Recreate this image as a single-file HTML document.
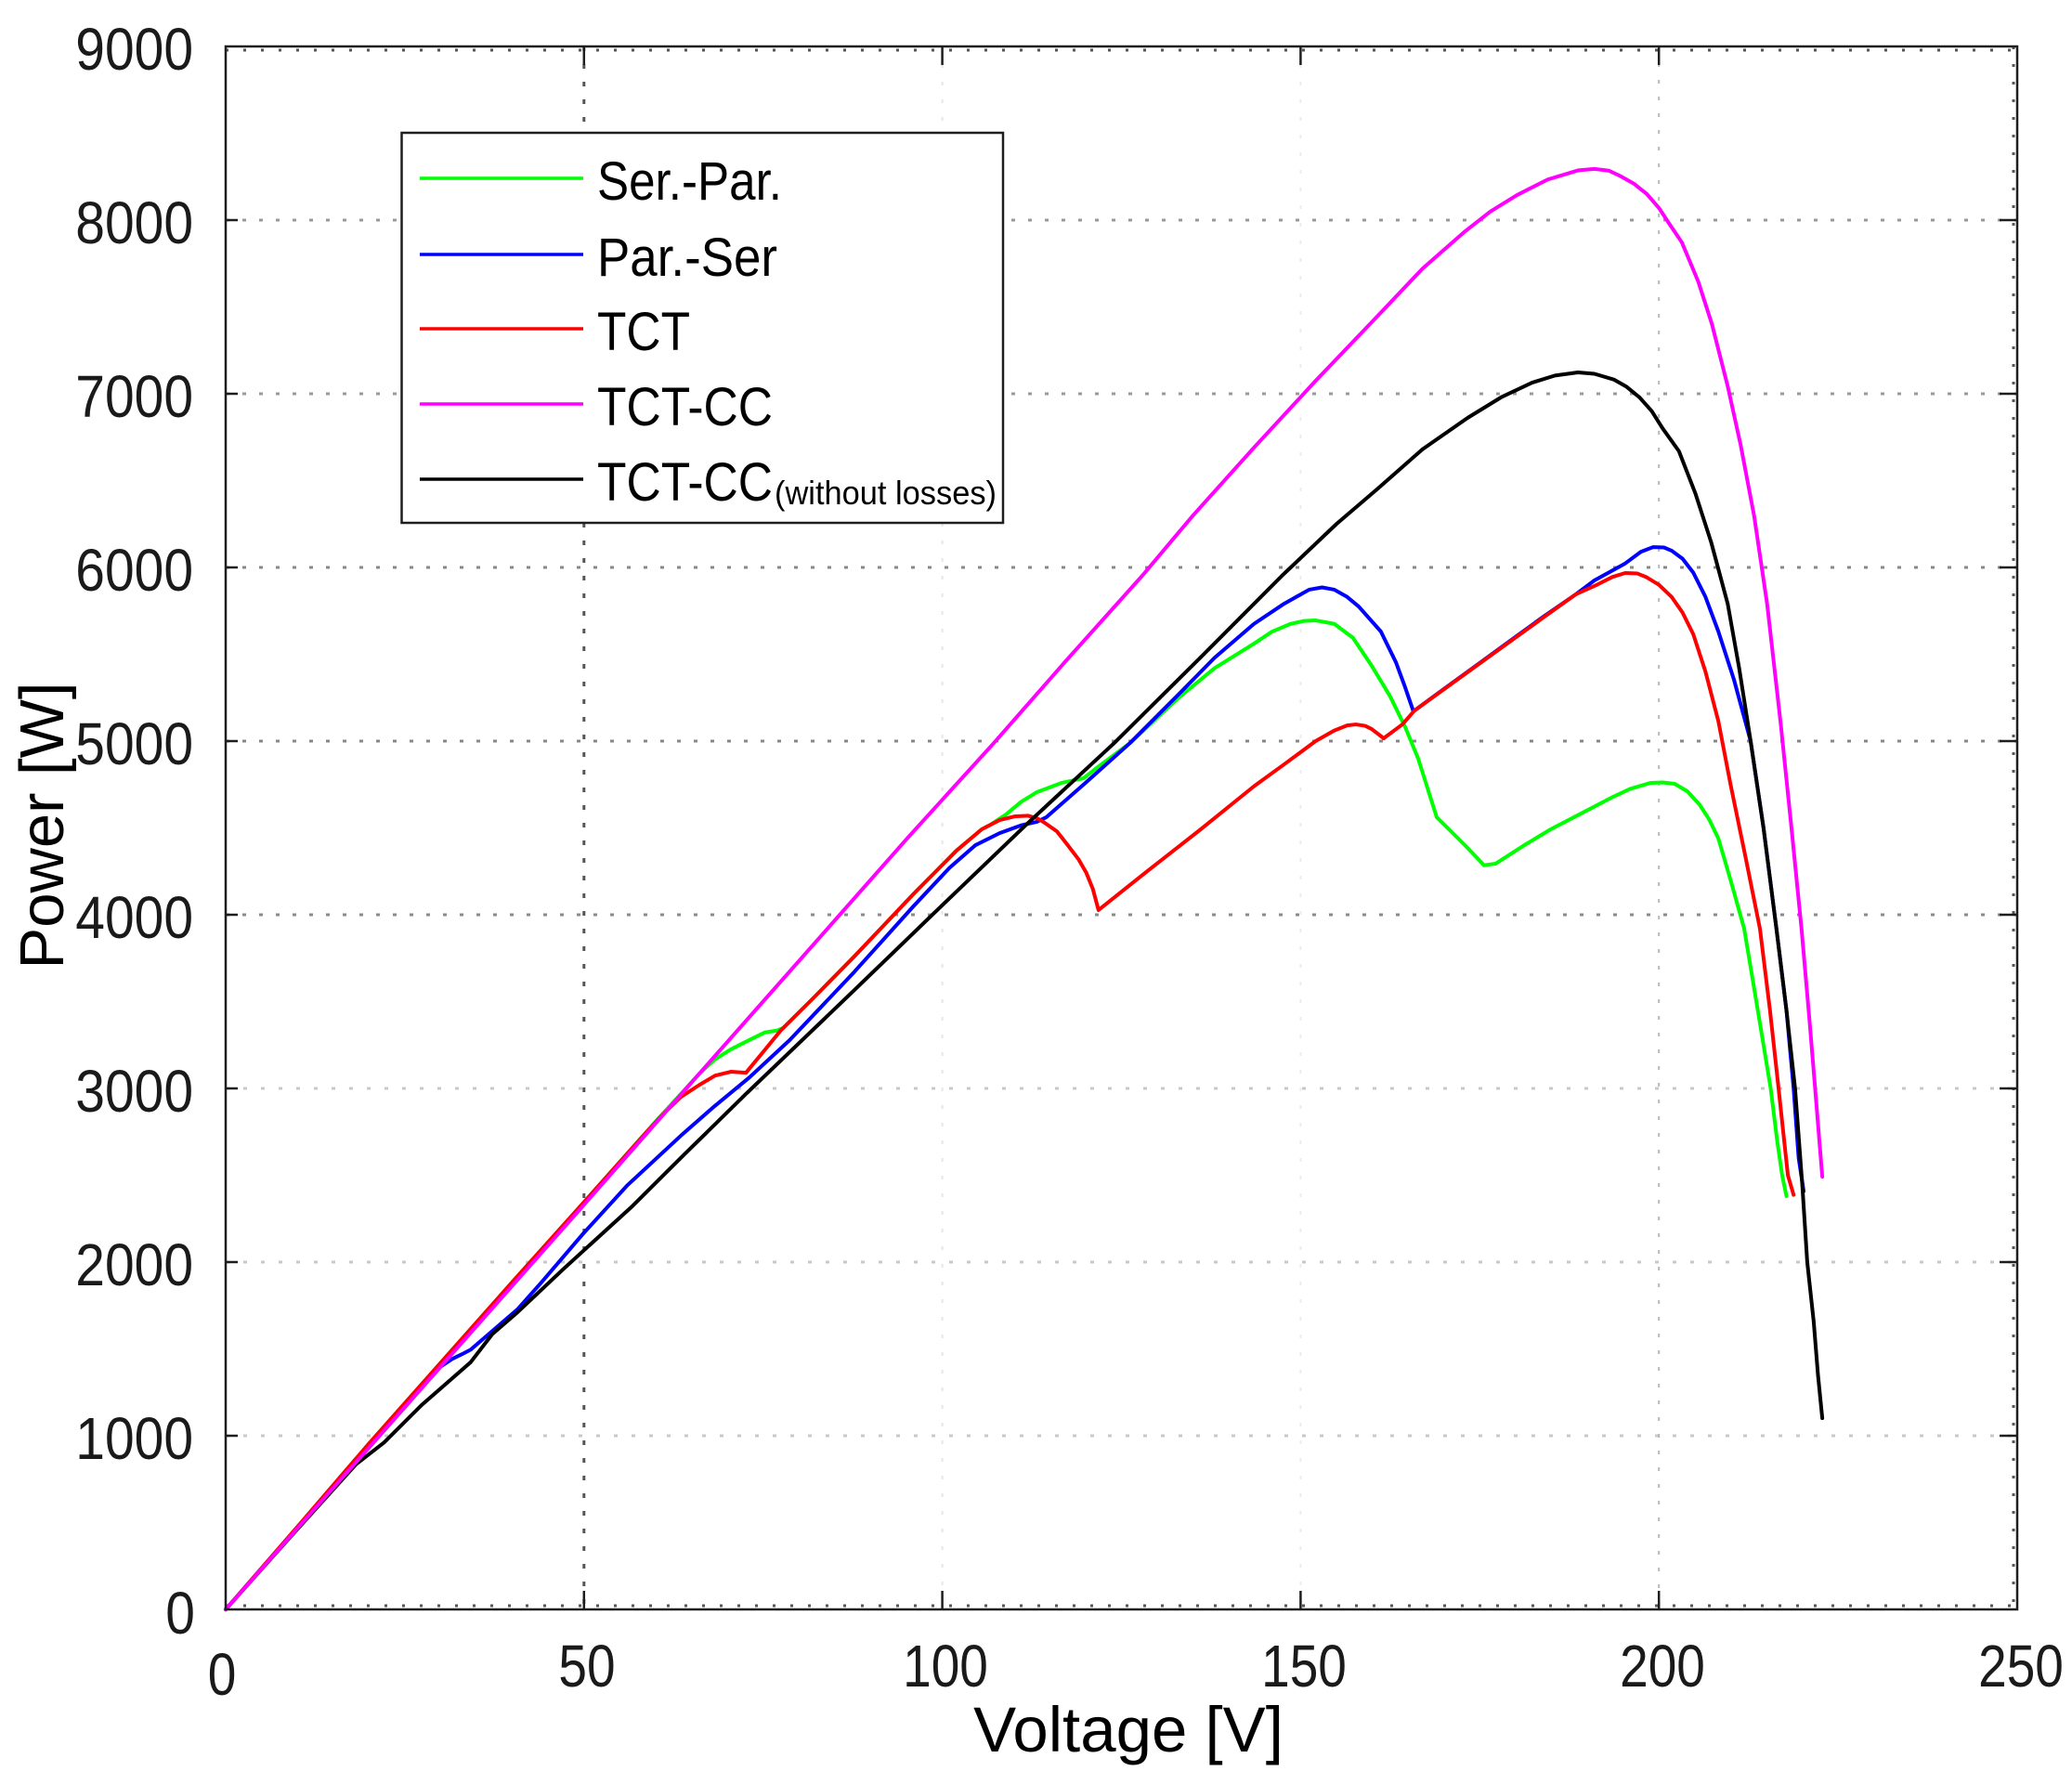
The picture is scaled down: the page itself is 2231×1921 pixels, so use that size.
<!DOCTYPE html>
<html><head><meta charset="utf-8"><style>
html,body{margin:0;padding:0;background:#fff;}
svg{display:block;}
text{font-family:"Liberation Sans",Arial,sans-serif;fill:#1a1a1a;}
</style></head><body>
<svg width="2231" height="1921" viewBox="0 0 2231 1921" xmlns="http://www.w3.org/2000/svg">
<rect x="0" y="0" width="2231" height="1921" fill="#fff"/>
<!-- horizontal grid -->
<g stroke-width="3" fill="none">
<line x1="243" y1="1546" x2="2172" y2="1546" stroke="#c8c8c8" stroke-dasharray="4 15"/>
<line x1="243" y1="1359" x2="2172" y2="1359" stroke="#c8c8c8" stroke-dasharray="4 15"/>
<line x1="243" y1="1172" x2="2172" y2="1172" stroke="#c8c8c8" stroke-dasharray="4 15"/>
<line x1="243" y1="985" x2="2172" y2="985" stroke="#8a8a8a" stroke-dasharray="4 14"/>
<line x1="243" y1="798" x2="2172" y2="798" stroke="#888" stroke-dasharray="4 14"/>
<line x1="243" y1="611" x2="2172" y2="611" stroke="#888" stroke-dasharray="4 14"/>
<line x1="243" y1="424" x2="2172" y2="424" stroke="#999" stroke-dasharray="4 14"/>
<line x1="243" y1="237" x2="2172" y2="237" stroke="#999" stroke-dasharray="4 14"/>
</g>
<!-- vertical grid -->
<g fill="none">
<line x1="628.8" y1="50" x2="628.8" y2="1733" stroke="#555" stroke-width="3" stroke-dasharray="5 14"/>
<line x1="1014.6" y1="50" x2="1014.6" y2="1733" stroke="#e6e6e6" stroke-width="2" stroke-dasharray="4 15"/>
<line x1="1400.4" y1="50" x2="1400.4" y2="1733" stroke="#ececec" stroke-width="2" stroke-dasharray="4 15"/>
<line x1="1786.2" y1="50" x2="1786.2" y2="1733" stroke="#b8b8b8" stroke-width="2" stroke-dasharray="4 14"/>
</g>
<!-- minor border dots -->
<g stroke="#555" stroke-width="3" fill="none">
<line x1="243" y1="54" x2="2172" y2="54" stroke-dasharray="3 16"/>
<line x1="2168" y1="50" x2="2168" y2="1733" stroke-dasharray="3 16"/>
<line x1="243" y1="1729" x2="2172" y2="1729" stroke-dasharray="3 16"/>
</g>
<!-- curves -->
<g transform="translate(243,1733) scale(7.716,-0.187)" fill="none" stroke-width="4" stroke-linejoin="round" stroke-linecap="round">
<polyline vector-effect="non-scaling-stroke" stroke="#00ff00" points="0,0 10,475 20,955 30,1420 40,1885 50,2345 60,2810 64,2990 66.1,3085 68.3,3168 70.5,3225 72.6,3269 75.2,3322 76.9,3333 77.8,3348 82,3520 87.7,3759 96,4120 102,4370 105.5,4492 106.7,4518 108.9,4578 111,4650 113.2,4706 116.6,4759 119.7,4786 122,4860 126.2,4989 133,5250 138,5420 143.5,5561 146,5630 148.6,5675 150.5,5692 152.1,5695 154.7,5675 157.3,5595 159.9,5435 162.5,5257 164.6,5080 166.4,4900 169,4561 171,4480 173.3,4385 175.6,4285 177.2,4294 181,4395 184.9,4492 189,4580 193.6,4679 196,4725 198.8,4759 200.5,4762 202.2,4754 204,4710 205.7,4633 207,4550 208.3,4439 210,4200 211.9,3920 213.8,3450 215.6,3000 216.5,2700 217.2,2500 217.8,2380"/>
<polyline vector-effect="non-scaling-stroke" stroke="#0000ff" points="0,0 10,466 20,932 30,1398 31.6,1442 33,1470 34.2,1496 36,1560 40.7,1727 44,1880 49.7,2155 56,2440 63.5,2727 68,2890 73.1,3064 78.7,3278 87.7,3670 96,4050 101,4270 104.6,4400 108,4470 111,4515 113.2,4535 114.5,4561 120,4760 126.2,4989 133,5270 138,5480 143.5,5675 147.7,5791 151.2,5872 153,5885 154.7,5872 156.5,5830 158.1,5775 161.2,5631 163.3,5454 164.5,5320 165.7,5176 165.9,5176 170,5300 175,5450 180,5600 184,5720 188.4,5845 191,5925 195.3,6023 197.5,6090 199.2,6117 200.7,6115 201.8,6096 203.3,6050 204.8,5970 206.5,5830 208.3,5631 210.5,5350 212.8,5000 214.6,4500 216.4,3920 217.8,3450 218.8,3000 219.5,2600 220.2,2408"/>
<polyline vector-effect="non-scaling-stroke" stroke="#ff0000" points="0,0 10,475 20,955 30,1420 40,1885 50,2345 58,2715 61,2850 63.5,2950 66.1,3020 68.3,3074 70.5,3096 72.6,3090 75,3210 77.4,3331 82,3520 87.7,3759 96,4120 102,4370 105.5,4492 108,4545 110.2,4567 112,4570 113.2,4556 114.1,4535 116,4480 117.5,4401 119,4320 120.1,4241 121,4150 121.8,4027 128.3,4241 136,4490 143.5,4740 147.7,4866 152.1,5000 154.7,5061 156.5,5090 157.7,5096 159,5088 159.9,5070 161.6,5016 164.2,5096 165.9,5176 170,5298 175,5447 180,5596 184,5715 188.4,5845 191.4,5901 193.5,5945 195.3,5968 197,5965 198.3,5943 200,5900 201.8,5829 203.3,5740 204.8,5615 206.5,5400 208.3,5114 210,4750 212,4350 214.1,3920 215.5,3450 216.7,3000 218,2500 218.8,2387"/>
<polyline vector-effect="non-scaling-stroke" stroke="#000000" points="0,0 10,462 18.2,836 22.1,961 27.3,1175 34.2,1424 37.2,1585 40.7,1710 47.1,1959 56.6,2316 64,2620 72.6,2968 87.7,3565 100,4055 112,4530 124,4989 136,5480 147.4,5952 155,6250 160.7,6451 167,6680 173.3,6861 178,6980 182.3,7064 185.5,7105 188.7,7123 191,7115 193.7,7082 195.5,7040 197.3,6979 199,6900 200.5,6802 202.8,6669 205.1,6425 207.3,6144 209.6,5791 211.2,5420 212.8,5000 214.6,4500 216.4,3920 217.8,3450 219,3000 220,2450 220.7,2000 221.6,1658 222.2,1350 222.8,1101"/>
<polyline vector-effect="non-scaling-stroke" stroke="#ff00ff" points="0,0 10,466 26.8,1249 49.7,2316 66.1,3085 84.2,3930 95,4435 107.2,4989 117,5450 127.9,5952 135,6300 143.5,6690 152,7070 161.2,7467 167,7720 172.8,7930 176.5,8050 180.2,8144 184.5,8234 188.8,8287 191,8295 193,8285 194.6,8254 196.5,8210 198.3,8151 200,8070 201.4,7982 203.2,7872 205.5,7645 207.4,7401 209.6,7044 211.4,6707 213.3,6294 215.1,5791 217,5100 218.5,4500 219.9,3920 221,3400 221.8,3000 222.8,2492"/>
</g>
<!-- axes box -->
<rect x="243" y="50" width="1929" height="1683" fill="none" stroke="#1e1e1e" stroke-width="2.5"/>
<!-- ticks -->
<g stroke="#1e1e1e" stroke-width="2.5">
<line x1="628.8" y1="1733" x2="628.8" y2="1713"/><line x1="1014.6" y1="1733" x2="1014.6" y2="1713"/><line x1="1400.4" y1="1733" x2="1400.4" y2="1713"/><line x1="1786.2" y1="1733" x2="1786.2" y2="1713"/>
<line x1="628.8" y1="50" x2="628.8" y2="70"/><line x1="1014.6" y1="50" x2="1014.6" y2="70"/><line x1="1400.4" y1="50" x2="1400.4" y2="70"/><line x1="1786.2" y1="50" x2="1786.2" y2="70"/>
<line x1="243" y1="1546" x2="256" y2="1546"/><line x1="243" y1="1359" x2="256" y2="1359"/><line x1="243" y1="1172" x2="256" y2="1172"/><line x1="243" y1="985" x2="256" y2="985"/><line x1="243" y1="798" x2="256" y2="798"/><line x1="243" y1="611" x2="256" y2="611"/><line x1="243" y1="424" x2="256" y2="424"/><line x1="243" y1="237" x2="256" y2="237"/>
<line x1="2172" y1="1546" x2="2153" y2="1546"/><line x1="2172" y1="1359" x2="2153" y2="1359"/><line x1="2172" y1="1172" x2="2153" y2="1172"/><line x1="2172" y1="985" x2="2153" y2="985"/><line x1="2172" y1="798" x2="2153" y2="798"/><line x1="2172" y1="611" x2="2153" y2="611"/><line x1="2172" y1="424" x2="2153" y2="424"/><line x1="2172" y1="237" x2="2153" y2="237"/>
</g>
<!-- y tick labels -->
<g font-size="64" text-anchor="end">
<text transform="translate(208,75) scale(0.89,1)">9000</text>
<text transform="translate(208,262) scale(0.89,1)">8000</text>
<text transform="translate(208,449) scale(0.89,1)">7000</text>
<text transform="translate(208,636) scale(0.89,1)">6000</text>
<text transform="translate(208,823) scale(0.89,1)">5000</text>
<text transform="translate(208,1010) scale(0.89,1)">4000</text>
<text transform="translate(208,1197) scale(0.89,1)">3000</text>
<text transform="translate(208,1384) scale(0.89,1)">2000</text>
<text transform="translate(208,1571) scale(0.89,1)">1000</text>
<text transform="translate(210,1759) scale(0.89,1)">0</text>
</g>
<!-- x tick labels -->
<g font-size="64" text-anchor="middle">
<text transform="translate(239,1825) scale(0.86,1)">0</text>
<text transform="translate(632,1816) scale(0.86,1)">50</text>
<text transform="translate(1018,1816) scale(0.86,1)">100</text>
<text transform="translate(1404,1816) scale(0.86,1)">150</text>
<text transform="translate(1790,1816) scale(0.86,1)">200</text>
<text transform="translate(2176,1816) scale(0.86,1)">250</text>
</g>
<!-- axis titles -->
<text x="1215" y="1886" font-size="69" text-anchor="middle" style="fill:#000">Voltage [V]</text>
<text transform="translate(68,889) rotate(-90)" font-size="67" text-anchor="middle" style="fill:#000">Power [W]</text>
<!-- legend -->
<rect x="432.5" y="143" width="647.5" height="420" fill="#fff" stroke="#1e1e1e" stroke-width="2.5"/>
<g stroke-width="3.5">
<line x1="452" y1="192" x2="628" y2="192" stroke="#00ff00"/>
<line x1="452" y1="274" x2="628" y2="274" stroke="#0000ff"/>
<line x1="452" y1="354" x2="628" y2="354" stroke="#ff0000"/>
<line x1="452" y1="435" x2="628" y2="435" stroke="#ff00ff"/>
<line x1="452" y1="516" x2="628" y2="516" stroke="#000"/>
</g>
<g font-size="58" style="fill:#000">
<text x="643" y="215" textLength="199" lengthAdjust="spacingAndGlyphs" style="fill:#000">Ser.-Par.</text>
<text x="643" y="297" textLength="194" lengthAdjust="spacingAndGlyphs" style="fill:#000">Par.-Ser</text>
<text x="643" y="377" textLength="100" lengthAdjust="spacingAndGlyphs" style="fill:#000">TCT</text>
<text x="643" y="458" textLength="189" lengthAdjust="spacingAndGlyphs" style="fill:#000">TCT-CC</text>
<text x="643" y="539" textLength="189" lengthAdjust="spacingAndGlyphs" style="fill:#000">TCT-CC</text>
<text x="834" y="543" font-size="36" textLength="239" lengthAdjust="spacingAndGlyphs" style="fill:#000">(without losses)</text>
</g>
</svg>
</body></html>
